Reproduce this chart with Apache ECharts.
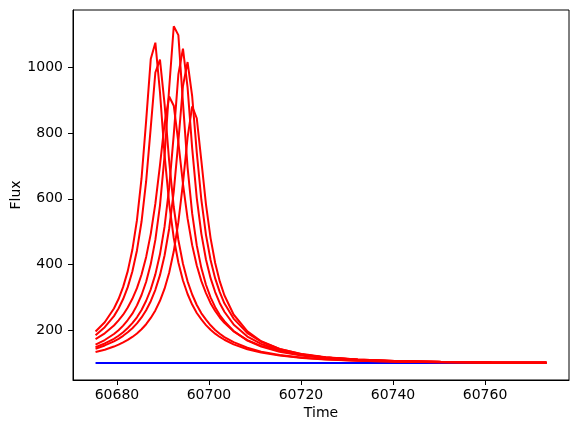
<!DOCTYPE html>
<html>
<head>
<meta charset="utf-8">
<script src="https://cdn.jsdelivr.net/npm/echarts@6/dist/echarts.min.js"></script>
<style>
html,body{margin:0;padding:0;background:#fff;}
#chart{width:580px;height:432px;}
</style>
</head>
<body>
<div id="chart"></div>
<script>
const times = [60675.35, 60677.35, 60679.35, 60680.35, 60681.35, 60682.35, 60683.35, 60684.35, 60685.35, 60686.35,
  60687.35, 60688.35, 60689.35, 60690.35, 60691.35, 60692.35, 60693.35, 60694.35, 60695.35, 60696.35,
  60697.35, 60698.35, 60699.35, 60700.35, 60701.35, 60702.35, 60703.35, 60705.35, 60708.35, 60711.35,
  60715.35, 60720.35, 60725.35, 60732.35, 60740.35, 60750.35, 60761.35, 60773.35];

const fluxA = [195.8, 223.9, 265.7, 294.7, 331.7, 379.8, 444.8, 535.0, 662.9, 838.3,
  1026.0, 1075.9, 925.6, 734.3, 585.8, 480.7, 406.0, 351.2, 310.0, 277.9,
  252.2, 232.5, 215.2, 201.0, 189.2, 179.1, 170.6, 156.7, 141.9, 131.8,
  122.3, 115.0, 110.4, 106.4, 103.9, 102.2, 101.3, 100.8];
const fluxB = [184.7, 208.9, 242.7, 265.7, 294.7, 331.0, 378.8, 442.8, 530.9, 653.7,
  817.6, 985.0, 1024.4, 889.6, 714.7, 575.2, 474.6, 402.1, 348.6, 308.5,
  276.6, 251.1, 231.8, 214.6, 200.5, 188.8, 178.8, 163.2, 146.2, 134.5,
  124.2, 116.1, 111.1, 106.8, 104.1, 102.4, 101.4, 100.8];
const fluxC = [156.1, 169.8, 188.1, 199.8, 213.8, 230.8, 250.1, 275.4, 307.1, 347.3,
  401.2, 475.0, 579.6, 730.7, 936.9, 1125.9, 1099.0, 892.4, 695.9, 555.5,
  458.2, 389.0, 338.2, 299.8, 269.9, 245.8, 227.2, 197.4, 168.2, 149.6,
  133.7, 121.8, 114.7, 108.7, 105.3, 102.9, 101.6, 100.9];
const fluxD = [148.1, 159.3, 173.6, 182.9, 193.6, 206.3, 221.3, 239.1, 261.5, 289.5,
  324.5, 369.9, 431.0, 515.2, 633.3, 795.6, 979.0, 1057.9, 939.5, 754.4,
  602.5, 493.3, 415.3, 358.3, 316.1, 282.1, 256.0, 217.4, 180.5, 157.8,
  138.6, 124.6, 116.3, 109.7, 105.7, 103.1, 101.7, 101.0];
const fluxE = [143.4, 153.3, 165.8, 173.4, 182.6, 193.3, 205.8, 220.7, 238.6, 260.6,
  288.2, 323.0, 367.5, 427.3, 509.0, 622.3, 775.2, 943.8, 1017.0, 912.8,
  741.7, 596.6, 490.4, 413.8, 357.5, 315.7, 281.8, 235.1, 190.8, 164.5,
  142.5, 126.9, 117.6, 110.5, 106.0, 103.3, 101.8, 101.0];
const fluxF = [172.7, 190.2, 214.2, 229.7, 246.9, 268.7, 295.4, 327.8, 369.5, 423.1,
  493.3, 585.3, 702.0, 829.1, 911.8, 883.8, 772.4, 646.0, 540.4, 459.0,
  397.0, 349.3, 312.8, 282.2, 258.3, 238.4, 222.1, 196.3, 169.5, 151.9,
  136.2, 124.0, 116.5, 110.2, 106.2, 103.6, 102.0, 101.2];
const fluxG = [133.1, 140.4, 149.9, 155.6, 162.6, 170.2, 179.2, 189.9, 202.6, 218.0,
  237.1, 260.1, 289.4, 326.3, 374.8, 440.1, 528.9, 647.6, 786.6, 881.9,
  845.6, 715.6, 583.4, 480.4, 404.5, 348.4, 306.4, 247.6, 196.2, 166.0,
  142.4, 126.0, 116.7, 109.6, 105.5, 102.9, 101.6, 100.9];
const baseline = [100, 100, 100, 100, 100, 100, 100, 100, 100, 100,
  100, 100, 100, 100, 100, 100, 100, 100, 100, 100,
  100, 100, 100, 100, 100, 100, 100, 100, 100, 100,
  100, 100, 100, 100, 100, 100, 100, 100];

const xTicks = [60680, 60700, 60720, 60740, 60760];
const yTicks = [200, 400, 600, 800, 1000];

const redCurves = [fluxA, fluxB, fluxC, fluxD, fluxE, fluxF, fluxG];

function pairs(vals) { return times.map((t, i) => [t, vals[i]]); }

const FONT = 'DejaVu Sans';
const series = [{
  type: 'line', data: pairs(baseline), showSymbol: false, symbol: 'none',
  lineStyle: { color: '#0000ff', width: 2 }, z: 2
}];
redCurves.forEach(c => series.push({
  type: 'line', data: pairs(c), showSymbol: false, symbol: 'none',
  lineStyle: { color: '#ff0000', width: 2 }, z: 3
}));

const chart = echarts.init(document.getElementById('chart'), null, { renderer: 'canvas' });
chart.setOption({
  animation: false,
  backgroundColor: '#ffffff',
  textStyle: { fontFamily: FONT },
  grid: { left: 73, top: 10, width: 496, height: 370, show: true, borderColor: '#000', borderWidth: 1,
          backgroundColor: 'transparent', containLabel: false, outerBoundsMode: 'none' },
  xAxis: {
    type: 'value', min: 60670.45, max: 60778.25,
    name: 'Time', nameLocation: 'middle', nameGap: 26, nameMoveOverlap: false,
    nameTextStyle: { fontSize: 14, color: '#000', fontFamily: FONT },
    axisLine: { show: true, onZero: false, lineStyle: { color: '#000', width: 1 } },
    axisTick: { show: true, length: 5, lineStyle: { color: '#000', width: 1 }, customValues: xTicks },
    axisLabel: { customValues: xTicks, formatter: v => String(v), fontSize: 14, color: '#000', margin: 8, fontFamily: FONT },
    splitLine: { show: false }
  },
  yAxis: {
    type: 'value', min: 48, max: 1175.5,
    name: 'Flux', nameLocation: 'middle', nameGap: 50, nameRotate: 90, nameMoveOverlap: false,
    nameTextStyle: { fontSize: 14, color: '#000', fontFamily: FONT },
    axisLine: { show: true, onZero: false, lineStyle: { color: '#000', width: 1 } },
    axisTick: { show: true, length: 5, lineStyle: { color: '#000', width: 1 }, customValues: yTicks },
    axisLabel: { customValues: yTicks, formatter: v => String(v), fontSize: 14, color: '#000', margin: 10, fontFamily: FONT },
    splitLine: { show: false }
  },
  series: series
});
</script>
</body>
</html>
